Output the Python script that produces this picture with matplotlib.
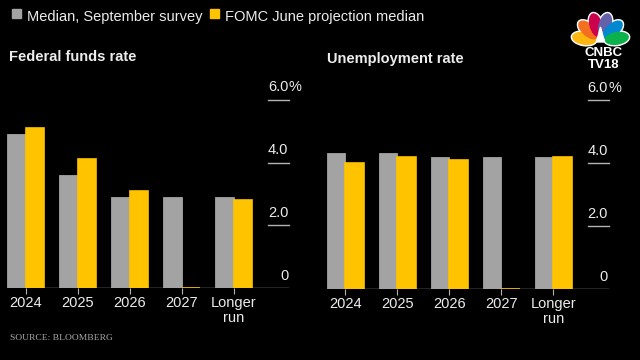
import numpy as np
import matplotlib.pyplot as plt
from matplotlib.patches import Ellipse, Rectangle, Polygon

plt.rcParams["font.family"] = ["Liberation Sans", "DejaVu Sans"]

# ── data ─────────────────────────────────────────────────────────────────────
CATEGORIES = ["2024", "2025", "2026", "2027", "Longer\nrun"]

FED_SURVEY = [4.9, 3.6, 2.9, 2.9, 2.9]
FED_FOMC   = [5.1, 4.1, 3.1, 0.0, 2.8]

UNEMP_SURVEY = [4.3, 4.3, 4.2, 4.2, 4.2]
UNEMP_FOMC   = [4.0, 4.2, 4.1, 0.0, 4.2]

Y_TICKS = [0, 2, 4, 6]

GRAY   = "#a3a3a3"
YELLOW = "#ffc300"
TEXT   = "#ececec"
RULE   = "#b4b4b4"
BG     = "#000000"

W, H = 640, 360
fig = plt.figure(figsize=(6.4, 3.6), dpi=100, facecolor=BG)

XLIM = (-0.36, 5.06)
YLIM = (0, 6.6)
BAR_W = 0.356


def px_axes(left, base, width=282, top=81):
    return fig.add_axes([left / W, (H - base) / H, width / W, (base - top) / H])


def panel(ax, survey, fomc):
    ax.set_facecolor(BG)
    x = list(range(len(CATEGORIES)))
    ax.bar([i - BAR_W / 2 for i in x], survey, BAR_W, color=GRAY,
           edgecolor=GRAY, linewidth=0.6, zorder=2)
    ax.bar([i + BAR_W / 2 for i in x], fomc, BAR_W, color=YELLOW,
           edgecolor=YELLOW, linewidth=1.2, zorder=3)
    ax.set_xlim(*XLIM)
    ax.set_ylim(*YLIM)
    for s in ax.spines.values():
        s.set_visible(False)
    ax.axhline(0, color=RULE, lw=1.0, zorder=1)
    ax.set_yticks([])
    ax.set_xticks(x)
    ax.set_xticklabels(CATEGORIES, color=TEXT, fontsize=10.5, linespacing=1.05)
    ax.tick_params(axis="x", length=4, width=0.8, color=RULE, pad=2)

    # right-hand value scale: short rules with labels sitting above
    for v in Y_TICKS:
        if v:
            ax.plot([4.66, XLIM[1]], [v, v], color=RULE, lw=1.0, clip_on=False)
        lab = "0" if v == 0 else f"{v:.1f}"
        ax.annotate(lab, (XLIM[1], v), xytext=(-0.5, 6), textcoords="offset points",
                    ha="right", va="baseline", color=TEXT, fontsize=10.5,
                    annotation_clip=False)
        if v == Y_TICKS[-1]:
            ax.annotate("%", (XLIM[1], v), xytext=(0, 6), textcoords="offset points",
                        ha="left", va="baseline", color=TEXT, fontsize=10.5,
                        annotation_clip=False)


ax1 = px_axes(7, 288)
panel(ax1, FED_SURVEY, FED_FOMC)
ax2 = px_axes(326.5, 289)
panel(ax2, UNEMP_SURVEY, UNEMP_FOMC)

# ── overlay: legend, titles, source, logo ───────────────────────────────────
ov = fig.add_axes([0, 0, 1, 1], zorder=5)
ov.set_xlim(0, W)
ov.set_ylim(H, 0)
ov.axis("off")
ov.patch.set_alpha(0)

ov.add_patch(Rectangle((12, 9), 8.5, 8.5, color=GRAY))
ov.text(27, 17.5, "Median, September survey", color=TEXT, fontsize=10.5,
        va="center", ha="left")
ov.add_patch(Rectangle((210, 9), 8.5, 8.5, color=YELLOW))
ov.text(225, 17.5, "FOMC June projection median", color=TEXT, fontsize=10.5,
        va="center", ha="left")

ov.text(9, 57, "Federal funds rate", color=TEXT, fontsize=10.5,
        fontweight="bold", va="center", ha="left")
ov.text(327, 59, "Unemployment rate", color=TEXT, fontsize=10.5,
        fontweight="bold", va="center", ha="left")

ov.text(10, 338, "SOURCE: BLOOMBERG", color="#a8a8a8", fontsize=6.8,
        family=["Liberation Serif", "DejaVu Serif"], va="center", ha="left")

# peacock logo
cx, cy = 600.5, 41
feathers = ["#fcb711", "#f37021", "#cc004c", "#6460aa", "#0089d0", "#0db14b"]
angles = [171, 138, 106, 74, 42, 9]
for grow, white in [(3, True), (0, False)]:
    for a, c in zip(angles, feathers):
        t = np.radians(a)
        ex, ey = cx + 16.5 * np.cos(t), cy - 16.5 * np.sin(t)
        ov.add_patch(Ellipse((ex, ey), 23 + grow, 11.5 + grow, angle=-a,
                             color="white" if white else c))
ov.add_patch(Polygon([[cx - 4, cy + 1], [cx + 4, cy + 1], [cx, cy - 14]],
                     color="white"))
ov.text(603.5, 59, "CNBC\nTV18", color="white", fontsize=9.5, fontweight="bold",
        va="center", ha="center", linespacing=0.95)

fig.savefig("out.png", dpi=100, facecolor=BG)
